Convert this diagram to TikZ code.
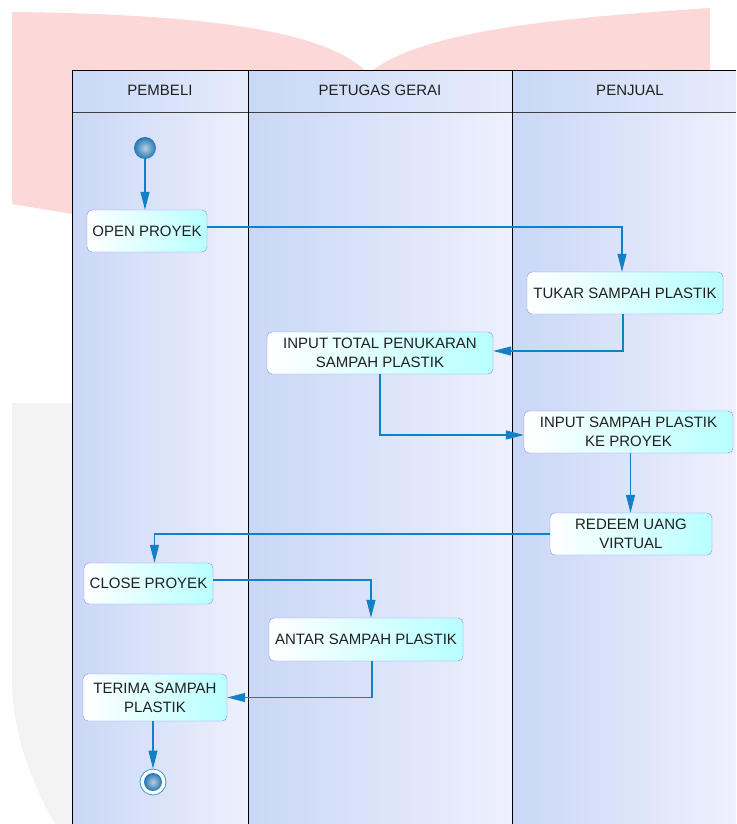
\documentclass[tikz,border=0pt]{standalone}
\usepackage{fontspec}
\setmainfont{Liberation Sans}
\usetikzlibrary{arrows.meta,positioning}

\definecolor{wmpink}{HTML}{FDD8D8}
\definecolor{wmgrey}{HTML}{F3F3F3}
\definecolor{laneL}{HTML}{C9D7F6}
\definecolor{laneR}{HTML}{EEF0FD}
\definecolor{hdrL}{HTML}{C8D8F6}
\definecolor{hdrR}{HTML}{E6EBFC}
\definecolor{flowblue}{HTML}{1280C4}
\definecolor{actborder}{HTML}{8C8CF0}
\definecolor{actcyan}{HTML}{B8FFFF}
\definecolor{txt}{HTML}{202020}
\definecolor{ballIn}{HTML}{B9CFDF}
\definecolor{ballOut}{HTML}{2277B5}
\definecolor{ring}{HTML}{3A9AD0}

\begin{document}
\begin{tikzpicture}[x=1pt, y=-1pt, every node/.style={font=\fontsize{15}{19}\selectfont, text=txt},
  act/.style={draw=actborder, rounded corners=5pt, left color=white, right color=actcyan, align=center, inner sep=2pt},
  flow/.style={draw=flowblue, line width=1.1pt, -{Triangle[length=18pt, width=9pt]}},
  lanebody/.style={left color=laneL, right color=laneR},
  lanehead/.style={left color=hdrL, right color=hdrR}]
\useasboundingbox (0,0) rectangle (736,824);

% watermark
\fill[wmpink] (12,12) .. controls (200,14) and (330,30) .. (368,74)
  .. controls (420,30) and (560,18) .. (710,8) -- (710,230) -- (72,214) -- (12,204) -- cycle;
\fill[wmgrey] (12,403) -- (80,403) -- (80,824) -- (55,824) .. controls (30,780) and (12,730) .. (12,680) -- cycle;

% swimlanes
\fill[lanehead] (72,71) rectangle (248,113);
\fill[lanehead] (248,71) rectangle (512,113);
\fill[lanehead] (512,71) rectangle (736,113);
\fill[lanebody] (72,113) rectangle (248,824);
\fill[lanebody] (248,113) rectangle (512,824);
\fill[lanebody] (512,113) rectangle (736,824);
\draw[black!75, line width=1pt] (72,113) -- (736,113);
\draw[black, line width=1pt] (72,824) -- (72,71) -- (736,71);
\draw[black, line width=1pt] (248,71) -- (248,824);
\draw[black, line width=1pt] (512,71) -- (512,824);
\node (pembeli) at (160,90) {PEMBELI};
\node (petugas) at (380,90) {PETUGAS GERAI};
\node (penjual) at (630,90) {PENJUAL};

% activities
\node[circle, minimum size=22pt, inner sep=0pt, draw=none, inner color=ballIn, outer color=ballOut] (start) at (145,148) {};
\node[act, minimum width=120pt, minimum height=42pt] (open) at (147,231) {OPEN PROYEK};
\node[act, minimum width=196pt, minimum height=42pt] (tukar) at (625,293) {TUKAR SAMPAH PLASTIK};
\node[act, minimum width=226pt, minimum height=42pt] (inputtotal) at (380,353) {INPUT TOTAL PENUKARAN\\SAMPAH PLASTIK};
\node[act, minimum width=209pt, minimum height=42pt] (inputsampah) at (628.5,432) {INPUT SAMPAH PLASTIK\\KE PROYEK};
\node[act, minimum width=162pt, minimum height=42pt] (redeem) at (631,534) {REDEEM UANG\\VIRTUAL};
\node[act, minimum width=129pt, minimum height=41pt] (close) at (148.5,583.5) {CLOSE PROYEK};
\node[act, minimum width=194pt, minimum height=43pt] (antar) at (366,639.5) {ANTAR SAMPAH PLASTIK};
\node[act, minimum width=144pt, minimum height=47pt] (terima) at (155,697.5) {TERIMA SAMPAH\\PLASTIK};
\node[circle, minimum size=26pt, inner sep=0pt, draw=ring, line width=0.8pt, fill=white] (end) at (153,782) {};
\node[circle, minimum size=18pt, inner sep=0pt, inner color=ballIn, outer color=ballOut] (endcore) at (end) {};

% flows
\draw[flow] (start.south) -- (start.south |- open.north);
\draw[flow] ([yshift=4pt]open.east) -| ([xshift=-3pt]tukar.north);
\draw[flow] ([xshift=-2pt]tukar.south) |- ([yshift=2pt]inputtotal.east);
\draw[flow] (inputtotal.south) |- ([yshift=-3pt]inputsampah.west);
\draw[flow] ([xshift=2pt]inputsampah.south) -- ([xshift=2pt]inputsampah.south |- redeem.north);
\draw[flow] (redeem.west) -| ([xshift=6pt]close.north);
\draw[flow] ([yshift=3.5pt]close.east) -| ([xshift=5pt]antar.north);
\draw[flow] ([xshift=6pt]antar.south) |- (terima.east);
\draw[flow] (terima.south -| end) -- (end.north);
\end{tikzpicture}
\end{document}
